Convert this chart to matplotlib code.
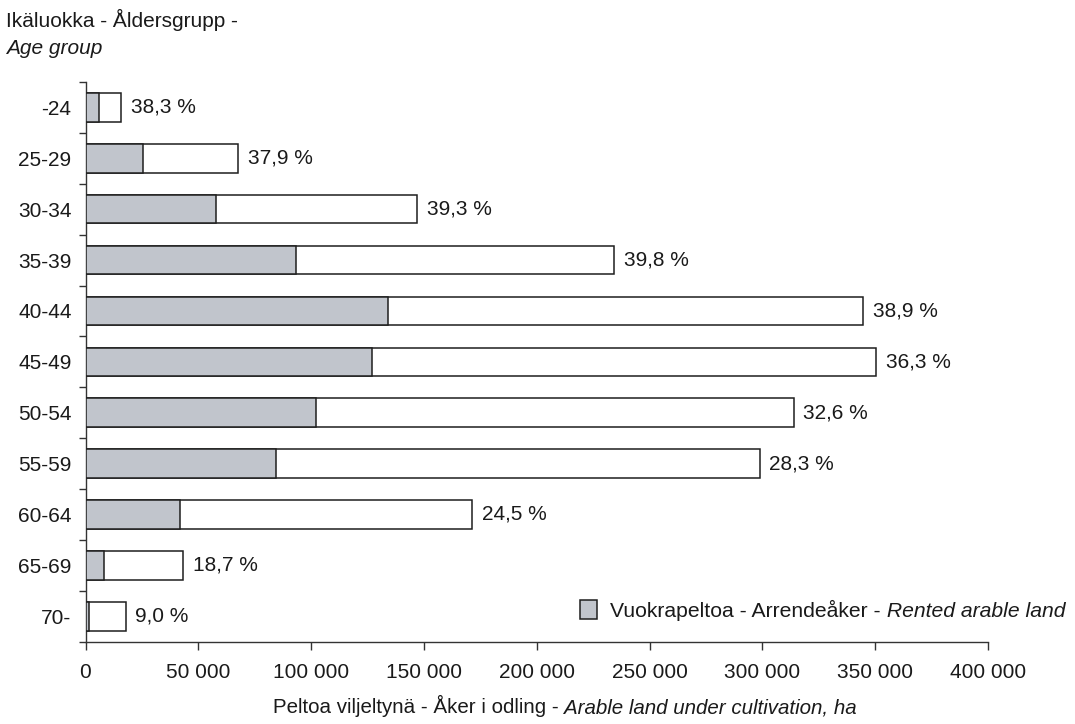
import numpy as np
import matplotlib
matplotlib.use("Agg")
import matplotlib.pyplot as plt
from matplotlib.patches import Rectangle
from matplotlib.ticker import FuncFormatter, FixedLocator

# ---- data ----
age_groups = ["-24", "25-29", "30-34", "35-39", "40-44", "45-49",
              "50-54", "55-59", "60-64", "65-69", "70-"]
total_ha = [15800, 67600, 147100, 234400, 344700, 350500,
            313800, 298800, 171400, 43300, 17800]
rented_ha = [6050, 25600, 57800, 93300, 134100, 127200,
             102300, 84600, 42000, 8100, 1600]
rented_pct = [38.3, 37.9, 39.3, 39.8, 38.9, 36.3, 32.6, 28.3, 24.5, 18.7, 9.0]
x_ticks = [0, 50000, 100000, 150000, 200000, 250000, 300000, 350000, 400000]

# ---- style ----
plt.rcParams['font.family'] = ['Liberation Sans', 'DejaVu Sans']
FS = 15.0
FS_XL = 14.8
GRAY = '#c1c5cc'
EDGE = '#1e1e1e'
TXT = '#1a1a1a'
W, H = 1075, 724

fig = plt.figure(figsize=(W / 100, H / 100), dpi=100)
ax = fig.add_axes([85.5 / W, 1 - 641.7 / H, (988 - 85.5) / W, (641.7 - 82) / H])

y = np.arange(len(age_groups))
ax.barh(y, total_ha, height=0.56, color='white', edgecolor=EDGE, linewidth=1.1, zorder=2)
ax.barh(y, rented_ha, height=0.56, color=GRAY, edgecolor=EDGE, linewidth=1.1, zorder=3)

for yi, tot, pct in zip(y, total_ha, rented_pct):
    ax.annotate(f"{pct:.1f} %".replace('.', ','), xy=(tot, yi), xytext=(7, 0),
                textcoords='offset points', va='center', ha='left', fontsize=FS,
                color=TXT)

ax.set_xlim(0, 400000)
ax.set_ylim(len(age_groups) - 0.5, -0.5)

ax.set_xticks(x_ticks)
ax.xaxis.set_major_formatter(FuncFormatter(lambda v, p: f"{int(v):,}".replace(',', ' ')))
ax.tick_params(axis='x', direction='out', length=5.5, width=1, color='#333333',
               pad=10, labelsize=FS, labelcolor=TXT)

# category labels at centers, ticks at boundaries
ax.set_yticks(y)
ax.set_yticklabels(age_groups)
ax.tick_params(axis='y', which='major', length=0, pad=10, labelsize=FS, labelcolor=TXT)
ax.yaxis.set_minor_locator(FixedLocator(np.arange(-0.5, len(age_groups), 1.0)))
ax.tick_params(axis='y', which='minor', direction='out', length=5, width=1, color='#333333')

for s in ['top', 'right']:
    ax.spines[s].set_visible(False)
for s in ['left', 'bottom']:
    ax.spines[s].set_color('#333333')
    ax.spines[s].set_linewidth(1.0)

# y axis title (two lines)
fig.text(6 / W, 1 - 27.3 / H, "Ikäluokka - Åldersgrupp -", fontsize=FS,
         va='baseline', ha='left', color=TXT)
fig.text(6 / W, 1 - 53.5 / H, "Age group", fontsize=FS, style='italic',
         va='baseline', ha='left', color=TXT)

# x axis label: normal + italic part
t1 = fig.text(272 / W, 1 - 713 / H, "Peltoa viljeltynä - Åker i odling -", fontsize=FS_XL,
              va='baseline', ha='left', color=TXT)
a1 = ax.annotate(" Arable land under cultivation, ha", xy=(1, 0), xycoords=t1,
                 va='bottom', ha='left', fontsize=FS_XL, style='italic', color=TXT,
                 annotation_clip=False)

# legend
fig.add_artist(Rectangle((580 / W, 1 - 619 / H), 17 / W, 19 / H, transform=fig.transFigure,
                         facecolor=GRAY, edgecolor=EDGE, linewidth=1.1))
t2 = fig.text(610 / W, 1 - 616.7 / H, "Vuokrapeltoa - Arrendeåker -", fontsize=FS + 0.2,
              va='baseline', ha='left', color=TXT)
ax.annotate(" Rented arable land", xy=(1, 0), xycoords=t2,
            va='bottom', ha='left', fontsize=FS + 0.2, style='italic', color=TXT,
            annotation_clip=False)

# center the two-part x label at x = 565 px
fig.canvas.draw()
r = fig.canvas.get_renderer()
b1 = t1.get_window_extent(r)
b2 = a1.get_window_extent(r)
width = b2.x1 - b1.x0
t1.set_x((565 - width / 2) / W)

fig.savefig("out.png", dpi=100)
